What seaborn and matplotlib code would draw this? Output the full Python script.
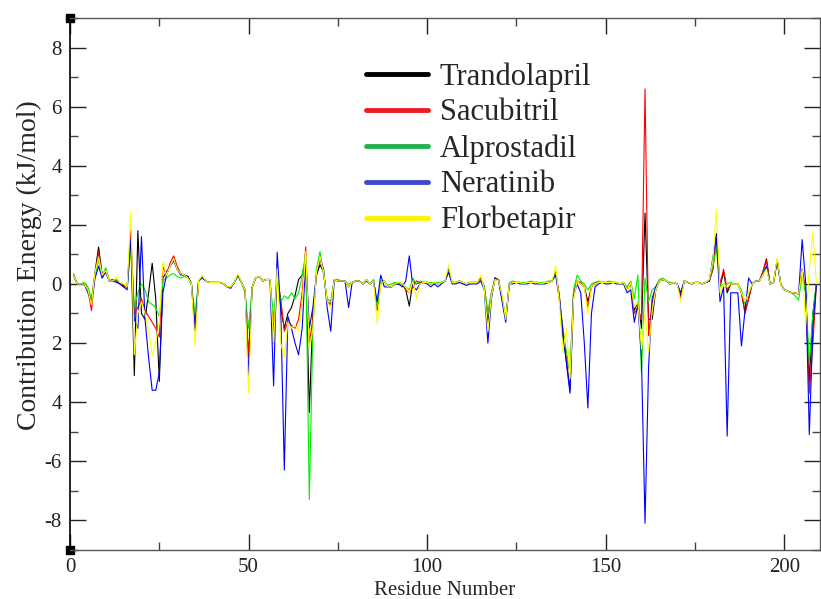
import pandas as pd
import matplotlib
matplotlib.use("Agg")
import matplotlib.pyplot as plt
import seaborn as sns
from matplotlib.lines import Line2D
from matplotlib.ticker import MultipleLocator

# residue index 1..209
residues = list(range(1, 210))

trandolapril = [
    0.3, 0.0, 0.0, 0.0, -0.2, -0.6, 0.4, 1.25, 0.3, 0.4,
    0.1, 0.15, 0.1, 0.0, -0.05, -0.1, 1.7, -3.1, 1.8, -1.0,
    -1.2, -0.3, 0.7, -0.5, -3.3, 0.2, 0.4, 0.6, 0.8, 0.5,
    0.35, 0.3, 0.25, 0.0, -1.5, 0.1, 0.25, 0.1, 0.05, 0.05,
    0.05, 0.05, 0.0, -0.1, -0.1, 0.05, 0.3, 0.05, -0.2, -2.5,
    -0.1, 0.2, 0.25, 0.1, 0.15, 0.15, -2.0, 0.3, -0.8, -1.5,
    -1.0, -0.8, -0.4, 0.15, 0.3, 0.8, -4.35, -1.0, 0.3, 0.65,
    0.4, -0.6, -0.7, 0.15, 0.1, 0.1, 0.1, -0.1, 0.05, 0.1,
    0.1, 0.0, 0.15, 0.0, 0.1, -0.8, 0.0, 0.1, -0.1, -0.1,
    0.0, 0.0, 0.0, -0.2, -0.75, 0.1, 0.0, 0.05, 0.05, 0.05,
    0.0, 0.05, 0.0, 0.05, 0.1, 0.4, 0.05, 0.05, 0.1, 0.05,
    0.0, 0.05, 0.05, 0.05, 0.15, -0.1, -1.3, -0.4, 0.2, 0.1,
    -0.5, -1.2, 0.0, 0.05, 0.05, 0.05, 0.0, 0.05, 0.05, 0.05,
    0.05, 0.0, 0.05, 0.05, 0.1, 0.4, -0.4, -1.8, -2.6, -3.6,
    -0.3, 0.1, 0.0, -0.1, -0.6, -0.1, 0.0, 0.05, 0.05, 0.05,
    0.05, 0.05, 0.05, 0.0, 0.05, -0.2, 0.05, -0.9, -0.6, -1.5,
    2.4, -1.2, -1.2, -0.2, 0.1, 0.15, 0.1, 0.0, 0.05, 0.0,
    -0.4, 0.1, 0.05, 0.0, 0.05, 0.05, 0.0, 0.05, 0.1, 0.5,
    1.7, -0.1, 0.4, -0.3, 0.0, 0.0, 0.0, -0.3, -0.95, -0.5,
    0.0, 0.1, 0.1, 0.4, 0.85, 0.0, 0.05, 0.8, 0.0, -0.2,
    -0.25, -0.3, -0.3, -0.35, 0.5, -0.3, -3.3, -1.0, 0.0,
]

sacubitril = [
    0.3, 0.0, 0.0, 0.0, -0.2, -0.9, 0.3, 1.1, 0.3, 0.5,
    0.1, 0.15, 0.1, 0.0, -0.1, -0.1, 1.8, -1.0, -0.8, -0.5,
    -0.9, -1.1, -1.3, -1.5, -1.8, 0.6, 0.3, 0.7, 0.95, 0.6,
    0.35, 0.3, 0.25, 0.0, -1.6, 0.1, 0.25, 0.1, 0.05, 0.05,
    0.05, 0.05, 0.0, -0.1, -0.1, 0.05, 0.3, 0.05, -0.2, -2.5,
    -0.1, 0.2, 0.25, 0.1, 0.15, 0.15, -1.6, 0.2, -0.5, -1.6,
    -1.3, -1.4, -1.5, -1.2, -0.3, 1.25, -2.0, -1.2, 0.3, 0.85,
    0.4, -0.6, -0.7, 0.15, 0.1, 0.1, 0.1, -0.1, 0.05, 0.1,
    0.1, 0.0, 0.15, 0.0, 0.1, -0.9, 0.0, 0.1, -0.1, -0.1,
    0.0, 0.05, 0.0, -0.2, -0.3, -0.1, 0.1, 0.05, 0.05, 0.05,
    0.0, 0.05, 0.0, 0.05, 0.1, 0.5, 0.05, 0.05, 0.1, 0.05,
    0.0, 0.05, 0.05, 0.05, 0.2, -0.1, -1.0, -0.3, 0.2, 0.15,
    -0.5, -1.2, 0.0, 0.05, 0.05, 0.05, 0.0, 0.05, 0.05, 0.05,
    0.05, 0.0, 0.05, 0.05, 0.1, 0.4, -0.4, -1.6, -2.5, -3.0,
    -0.3, 0.1, 0.05, -0.1, -0.8, -0.1, 0.05, 0.05, 0.05, 0.05,
    0.05, 0.05, 0.05, 0.0, 0.05, -0.2, 0.05, -1.0, -0.8, -1.2,
    6.6, -1.75, -0.6, -0.2, 0.1, 0.15, 0.1, 0.0, 0.05, 0.0,
    -0.5, 0.1, 0.05, 0.0, 0.05, 0.05, 0.0, 0.05, 0.1, 0.5,
    1.6, 0.0, 0.5, -0.2, 0.0, 0.0, 0.0, -0.3, -1.0, -0.5,
    0.0, 0.1, 0.1, 0.4, 0.8, 0.0, 0.05, 0.8, 0.0, -0.2,
    -0.25, -0.3, -0.3, -0.35, 0.5, -0.3, -3.7, -2.0, 0.0,
]

alprostadil = [
    0.35, 0.0, 0.0, 0.05, -0.1, -0.5, 0.3, 0.8, 0.2, 0.55,
    0.1, 0.1, 0.15, 0.05, 0.0, -0.1, 1.2, -0.8, -0.3, 0.0,
    -0.2, -0.6, -0.7, -0.8, -1.1, 0.1, 0.2, 0.3, 0.35, 0.25,
    0.2, 0.25, 0.2, -0.05, -1.0, 0.1, 0.25, 0.1, 0.05, 0.05,
    0.05, 0.05, 0.0, -0.1, -0.1, 0.05, 0.25, 0.05, -0.3, -1.5,
    -0.1, 0.2, 0.25, 0.1, 0.15, 0.15, -1.2, 0.3, -0.6, -0.4,
    -0.5, -0.3, -0.5, -0.3, 0.3, 1.0, -7.3, -1.5, 0.5, 1.1,
    0.3, -0.5, -0.6, 0.15, 0.15, 0.1, 0.1, 0.0, 0.05, 0.1,
    0.1, 0.0, 0.15, 0.0, 0.15, -0.8, 0.1, 0.1, -0.05, 0.0,
    0.05, 0.05, 0.0, -0.1, -0.2, 0.2, 0.0, 0.1, 0.05, 0.05,
    0.05, 0.05, 0.05, 0.05, 0.1, 0.45, 0.05, 0.05, 0.1, 0.05,
    0.0, 0.05, 0.05, 0.05, 0.15, -0.1, -1.0, -0.3, 0.15, 0.15,
    -0.5, -1.2, 0.05, 0.1, 0.05, 0.05, 0.05, 0.05, 0.1, 0.05,
    0.05, 0.05, 0.05, 0.1, 0.1, 0.35, -0.5, -1.5, -2.3, -3.0,
    -0.2, 0.3, 0.1, 0.0, -0.2, 0.0, 0.05, 0.1, 0.05, 0.05,
    0.1, 0.05, 0.05, 0.0, 0.05, -0.1, 0.1, -0.5, 0.3, -3.0,
    0.2, -0.6, -0.2, -0.1, 0.15, 0.2, 0.1, 0.05, 0.05, 0.0,
    -0.3, 0.1, 0.05, 0.0, 0.05, 0.05, 0.0, 0.05, 0.15, 0.6,
    1.2, -0.1, 0.0, 0.0, 0.05, 0.0, 0.0, -0.2, -0.7, -0.3,
    0.0, 0.1, 0.1, 0.3, 0.6, 0.0, 0.05, 0.8, 0.0, -0.2,
    -0.25, -0.3, -0.4, -0.55, 0.3, -0.3, -2.7, -1.0, 0.0,
]

neratinib = [
    0.3, 0.0, 0.0, 0.0, -0.3, -0.6, 0.2, 0.6, 0.2, 0.4,
    0.1, 0.1, 0.05, 0.0, -0.1, -0.2, 1.5, -1.2, -1.5, 1.6,
    -1.2, -2.5, -3.6, -3.6, -3.0, -0.3, 0.3, 0.6, 0.8, 0.5,
    0.3, 0.3, 0.25, 0.0, -1.5, 0.1, 0.2, 0.1, 0.05, 0.05,
    0.05, 0.05, 0.0, -0.1, -0.15, 0.05, 0.3, 0.05, -0.2, -3.1,
    -0.1, 0.2, 0.25, 0.1, 0.15, 0.15, -3.45, 1.07, -0.9, -6.3,
    -1.1, -1.5, -2.0, -2.4, -1.5, 0.8, -1.5, -0.8, 0.3, 0.85,
    0.5, -0.8, -1.6, 0.15, 0.1, 0.1, 0.1, -0.8, 0.05, 0.1,
    0.1, 0.0, 0.1, 0.0, 0.1, -0.6, 0.3, -0.1, -0.1, -0.1,
    0.0, 0.0, -0.1, 0.1, 0.95, -0.1, -0.2, 0.0, 0.05, 0.0,
    -0.1, 0.0, -0.1, 0.0, 0.1, 0.4, 0.0, 0.0, 0.05, 0.0,
    -0.05, 0.0, 0.0, 0.0, 0.1, -0.2, -2.0, -0.5, 0.2, 0.1,
    -0.6, -1.3, 0.0, 0.0, 0.05, 0.0, 0.0, 0.0, 0.05, 0.0,
    0.0, 0.0, 0.0, 0.05, 0.1, 0.3, -0.5, -1.6, -2.7, -3.7,
    -0.4, 0.0, -0.3, -2.0, -4.2, -1.0, -0.1, 0.0, 0.05, 0.0,
    0.0, 0.05, 0.0, 0.0, 0.0, -0.3, -0.2, -1.3, -0.7, -2.5,
    -8.1, -2.8, -0.5, -0.1, 0.1, 0.15, 0.1, 0.0, 0.05, 0.0,
    -0.3, 0.1, 0.05, 0.0, 0.05, 0.05, 0.0, 0.05, 0.1, 0.9,
    1.6, -0.6, -0.1, -5.15, -0.3, -0.3, -0.3, -2.1, -0.9, 0.2,
    0.0, 0.1, 0.1, 0.3, 0.6, 0.0, 0.05, 0.8, 0.0, -0.2,
    -0.25, -0.3, -0.3, -0.35, 1.5, 0.0, -5.1, -1.5, 0.0,
]

florbetapir = [
    0.3, 0.0, 0.0, 0.0, -0.2, -0.7, 0.4, 0.9, 0.3, 0.45,
    0.1, 0.1, 0.25, 0.05, 0.0, -0.1, 2.45, -2.4, -1.0, -0.6,
    -1.0, -1.6, -2.4, -2.0, -1.3, 0.75, 0.3, 0.6, 0.85, 0.5,
    0.35, 0.3, 0.2, 0.0, -2.1, 0.1, 0.3, 0.1, 0.05, 0.05,
    0.05, 0.05, 0.0, -0.1, -0.1, 0.05, 0.35, 0.05, -0.2, -3.7,
    -0.1, 0.2, 0.25, 0.1, 0.15, 0.15, -2.0, 0.5, -2.0, -2.5,
    -1.3, -1.5, -1.4, -1.6, -0.6, 1.1, -2.2, -1.5, 0.4, 0.9,
    0.4, -0.6, -0.8, 0.15, 0.1, 0.1, 0.1, -0.1, 0.05, 0.1,
    0.1, 0.0, 0.15, 0.0, 0.1, -1.35, 0.0, 0.1, -0.1, -0.1,
    0.0, 0.05, 0.0, -0.1, -0.3, 0.1, -0.5, 0.0, 0.05, 0.05,
    0.0, 0.05, 0.0, 0.05, 0.1, 0.65, 0.05, 0.05, 0.1, 0.05,
    0.0, 0.05, 0.05, 0.05, 0.3, -0.2, -1.6, -0.4, 0.15, 0.1,
    -0.4, -1.2, 0.0, 0.05, 0.05, 0.05, 0.0, 0.05, 0.05, 0.05,
    0.05, 0.0, 0.05, 0.05, 0.1, 0.6, -0.6, -2.3, -1.5, -3.2,
    -0.5, 0.1, 0.0, -0.1, -1.0, -0.1, 0.0, 0.05, 0.05, 0.05,
    0.05, 0.05, 0.05, 0.0, 0.05, -0.2, 0.05, -0.8, -0.6, -2.2,
    -1.0, -2.3, -0.9, -0.2, 0.1, 0.15, 0.1, 0.0, 0.05, 0.0,
    -0.6, 0.1, 0.05, 0.0, 0.05, 0.05, 0.0, 0.05, 0.15, 0.8,
    2.5, -0.3, 0.0, -0.1, 0.0, 0.0, 0.0, -0.3, -0.6, -0.3,
    0.0, 0.1, 0.1, 0.3, 0.5, 0.0, 0.05, 0.9, 0.0, -0.2,
    -0.25, -0.3, -0.3, -0.35, 0.5, -1.4, 0.5, 1.75, 0.0,
]

names = ["Trandolapril", "Sacubitril", "Alprostadil", "Neratinib", "Florbetapir"]
line_colors = ["#000000", "#ff0000", "#00ee00", "#0000ff", "#ffff00"]
legend_colors = ["#000000", "#ed1c24", "#22b14c", "#3f48cc", "#fff200"]
y_ticks = [-8, -6, -4, -2, 0, 2, 4, 6, 8]
y_tick_labels = ["-8", "-6", "4", "2", "0", "2", "4", "6", "8"]
x_ticks = [0, 50, 100, 150, 200]

sns.set_style("ticks")
plt.rcParams["font.family"] = ["Liberation Serif", "DejaVu Serif"]

frames = []
for name, vals in zip(names, [trandolapril, sacubitril, alprostadil, neratinib, florbetapir]):
    frames.append(pd.DataFrame({"residue": residues, "energy": vals, "drug": name}))
df = pd.concat(frames, ignore_index=True)

fig = plt.figure(figsize=(8.21, 5.99), dpi=100)
ax = fig.add_axes([0.0853, 0.082, 0.9135, 0.888])

sns.lineplot(data=df, x="residue", y="energy", hue="drug", hue_order=names,
             palette=dict(zip(names, line_colors)), linewidth=0.8,
             legend=False, ax=ax, estimator=None)

ax.set_xlim(0, 210)
ax.set_ylim(-9, 9)
ax.set_xticks(x_ticks)
ax.set_xticklabels([str(t) for t in x_ticks])
ax.set_yticks(y_ticks)
ax.set_yticklabels(y_tick_labels)
ax.xaxis.set_minor_locator(MultipleLocator(25))
ax.yaxis.set_minor_locator(MultipleLocator(1))
ax.tick_params(which="major", direction="in", length=11.5, width=1.0,
               top=True, right=True, labelsize=15, colors="#222222", pad=6)
ax.tick_params(which="minor", direction="in", length=5.8, width=1.0,
               top=True, right=True, colors="#444444")
for side in ["top", "bottom", "right"]:
    ax.spines[side].set_color("#555555")
    ax.spines[side].set_linewidth(1.0)
ax.spines["left"].set_color("#000000")
ax.spines["left"].set_linewidth(1.2)

ax.set_xlabel("Residue Number", fontsize=15, labelpad=3)
ax.set_ylabel("Contribution Energy (kJ/mol)", fontsize=20)
ax.yaxis.set_label_coords(-0.037, 0.535)

# grace-style corner markers
ax.plot([0, 0], [0, 1], "s", color="black", markersize=6,
        transform=ax.transAxes, clip_on=False)

handles = [Line2D([0], [0], color=c, linewidth=3.5, solid_capstyle="round")
           for c in legend_colors]
ax.legend(handles, names, loc="upper left", bbox_to_anchor=(0.379, 0.94),
          frameon=False, fontsize=22, handlelength=2.0, handletextpad=0.4,
          labelspacing=0.22, borderaxespad=0)

fig.savefig("out.png", dpi=100)
plt.close(fig)
